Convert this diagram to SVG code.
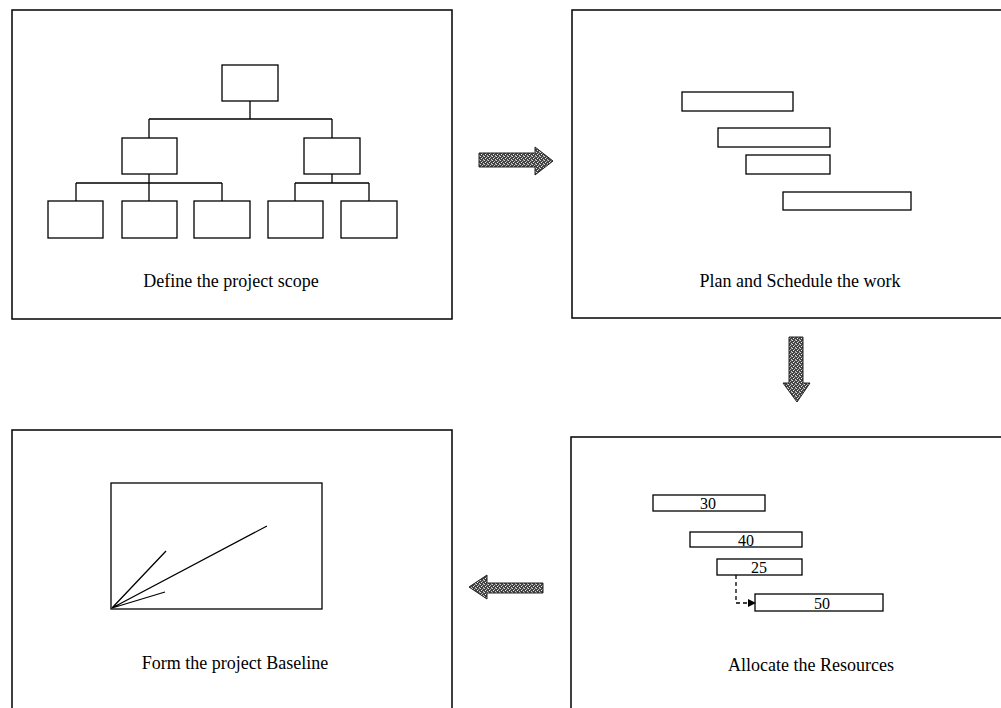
<svg xmlns="http://www.w3.org/2000/svg" width="1001" height="708" viewBox="0 0 1001 708">
<style>
.panel{fill:#fff;stroke:#000;stroke-width:1.5}
.box{fill:#fff;stroke:#000;stroke-width:1.3}
.ln{fill:none;stroke:#000;stroke-width:1.3}
.lbl{font-family:"Liberation Serif","Times New Roman",serif;font-size:18px;fill:#000;text-anchor:middle}
.num{font-family:"Liberation Serif","Times New Roman",serif;font-size:16px;fill:#000;text-anchor:middle}
.big{fill:url(#stip);stroke:#222;stroke-width:1}
</style>
<defs>
<pattern id="stip" width="4" height="4" patternUnits="userSpaceOnUse">
<rect width="4" height="4" fill="#444"/>
<rect x="0" y="0" width="1" height="1" fill="#ddd"/>
<rect x="2" y="1" width="1" height="1" fill="#bbb"/>
<rect x="1" y="2" width="1" height="1" fill="#eee"/>
<rect x="3" y="3" width="1" height="1" fill="#ccc"/>
<rect x="3" y="0" width="1" height="1" fill="#888"/>
</pattern>
<marker id="ah" markerWidth="8" markerHeight="8" refX="7" refY="4" orient="auto" markerUnits="userSpaceOnUse">
<path d="M0,0 L8,4 L0,8 Z" fill="#000"/>
</marker>
</defs>
<rect width="1001" height="708" fill="#fff"/>

<g id="scope">
<rect class="panel" x="12" y="10" width="440" height="309"/>
<rect class="box" x="222" y="65" width="56" height="36"/>
<rect class="box" x="122" y="138" width="55" height="36"/>
<rect class="box" x="304" y="138" width="56" height="36"/>
<rect class="box" x="48" y="201" width="55" height="37"/>
<rect class="box" x="122" y="201" width="55" height="37"/>
<rect class="box" x="194" y="201" width="56" height="37"/>
<rect class="box" x="268" y="201" width="55" height="37"/>
<rect class="box" x="341" y="201" width="56" height="37"/>
<path class="ln" d="M250,101 V119 M149,119 H332 M149,119 V138 M332,119 V138 M149,174 V201 M76,183 H222 M76,183 V201 M222,183 V201 M332,174 V183 M295,183 H369 M295,183 V201 M369,183 V201"/>
<text class="lbl" x="231" y="287">Define the project scope</text>
</g>

<g id="schedule">
<rect class="panel" x="572" y="10" width="440" height="308"/>
<rect class="box" x="682" y="92" width="111" height="19"/>
<rect class="box" x="718" y="128" width="112" height="19"/>
<rect class="box" x="746" y="155" width="84" height="19"/>
<rect class="box" x="783" y="192" width="128" height="18"/>
<text class="lbl" x="800" y="287">Plan and Schedule the work</text>
</g>

<g id="resources">
<rect class="panel" x="571" y="437" width="440" height="280"/>
<rect class="box" x="653" y="495" width="112" height="16"/>
<text class="num" x="708" y="509">30</text>
<rect class="box" x="690" y="532" width="112" height="15"/>
<text class="num" x="746" y="546">40</text>
<rect class="box" x="717" y="559" width="85" height="16"/>
<text class="num" x="759" y="573">25</text>
<rect class="box" x="755" y="594" width="128" height="17"/>
<text class="num" x="822" y="609">50</text>
<path class="ln" d="M736,575 V603 H755" stroke-dasharray="4,3" marker-end="url(#ah)"/>
<text class="lbl" x="811" y="671">Allocate the Resources</text>
</g>

<g id="baseline">
<rect class="panel" x="12" y="430" width="440" height="290"/>
<rect class="box" x="111" y="483" width="211" height="126"/>
<path class="ln" d="M112,608 L166,551 M112,608 L267,526 M112,608 L165,592"/>
<text class="lbl" x="235" y="669">Form the project Baseline</text>
</g>

<g id="connectors">
<path class="big" d="M479,153 H535 V147 L553,161 L535,175 V167 H479 Z"/>
<path class="big" d="M789,337 H803 V383 H810 L797,402 L783,383 H789 Z"/>
<path class="big" d="M543,583 V593 H487 V599 L469,587 L487,575 V583 Z"/>
</g>
</svg>
